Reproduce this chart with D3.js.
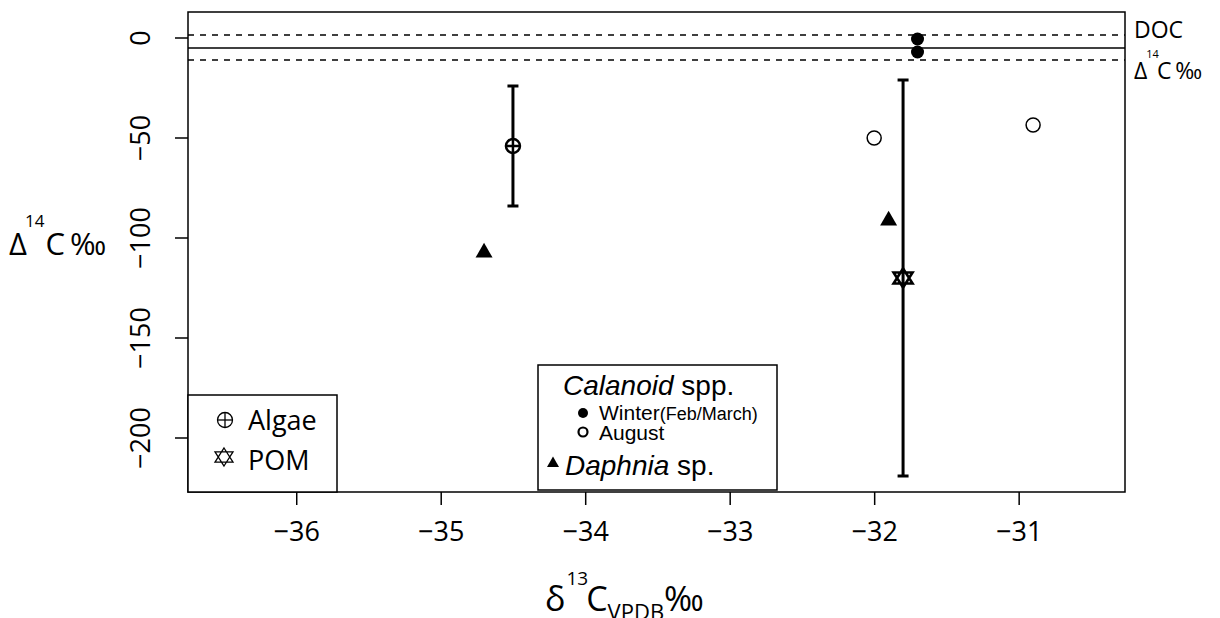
<!DOCTYPE html>
<html><head><meta charset="utf-8">
<script src="https://cdn.jsdelivr.net/npm/d3@7"></script>
<style>body{margin:0;background:#fff}svg{display:block}</style>
</head><body>
<svg id="c" width="1220" height="618"></svg>
<script>
// ---- data ----
const xTicks = [-36, -35, -34, -33, -32, -31];
const yTicks = [0, -50, -100, -150, -200];
const calWinterX = [-31.7, -31.7];
const calWinterY = [-0.5, -7];
const calAugX = [-32.0, -30.9];
const calAugY = [-50, -43.5];
const daphX = [-34.7, -31.9];
const daphY = [-107, -91];
const algaeX = [-34.5];
const algaeY = [-54];
const algaeErr = [30];
const pomX = [-31.8];
const pomY = [-120];
const pomErr = [99];
const docMean = [-5];
const docRange = [1.5, -11];

const svg = d3.select("#c");
const L = 188, R = 1125, T = 12, B = 492;
const x = d3.scaleLinear().domain([-36.749, -30.264]).range([L, R]);
const y = d3.scaleLinear().domain([-227, 13]).range([B, T]);
const font = "'Open Sans', 'Noto Sans', sans-serif";
const afont = "'Liberation Sans', Arial, sans-serif";
const fmt = d => String(d).replace("-", "\u2212");

// axes
const xa = svg.append("g").attr("transform", `translate(0,${B})`)
  .call(d3.axisBottom(x).tickValues(xTicks).tickSize(13).tickPadding(17).tickFormat(fmt));
xa.select(".domain").remove();
xa.selectAll("line").attr("stroke", "#000").attr("stroke-width", 1.5);
xa.selectAll("text").attr("font-family", font).attr("font-size", 27).attr("fill", "#000");

const ya = svg.append("g").attr("transform", `translate(${L},0)`)
  .call(d3.axisLeft(y).tickValues(yTicks).tickSize(13).tickFormat(fmt));
ya.select(".domain").remove();
ya.selectAll(".tick").attr("transform", "translate(0,0)");
ya.selectAll(".tick line").attr("stroke", "#000").attr("stroke-width", 1.5)
  .attr("y1", d => y(d)).attr("y2", d => y(d));
ya.selectAll("text").attr("font-family", font).attr("font-size", 27).attr("fill", "#000")
  .attr("transform", "rotate(-90)").attr("text-anchor", "middle")
  .attr("x", d => -y(d)).attr("y", -47).attr("dy", "0.35em");

// frame
svg.append("rect").attr("x", L).attr("y", T).attr("width", R - L).attr("height", B - T)
  .attr("fill", "none").attr("stroke", "#000").attr("stroke-width", 1.5);

// DOC lines
svg.selectAll(".docm").data(docMean).enter().append("line")
  .attr("x1", L).attr("x2", R).attr("y1", d => y(d)).attr("y2", d => y(d))
  .attr("stroke", "#000").attr("stroke-width", 1.3);
svg.selectAll(".docr").data(docRange).enter().append("line")
  .attr("x1", L).attr("x2", R).attr("y1", d => y(d)).attr("y2", d => y(d))
  .attr("stroke", "#000").attr("stroke-width", 1.3).attr("stroke-dasharray", "6,6");

// error bars
function errbar(xs, ys, es) {
  xs.forEach((xv, i) => {
    const cx = x(xv), y1 = y(ys[i] + es[i]), y2 = y(ys[i] - es[i]);
    svg.append("line").attr("x1", cx).attr("x2", cx).attr("y1", y1).attr("y2", y2).attr("stroke", "#000").attr("stroke-width", 3);
    [y1, y2].forEach(yy => svg.append("line").attr("x1", cx - 5.5).attr("x2", cx + 5.5).attr("y1", yy).attr("y2", yy).attr("stroke", "#000").attr("stroke-width", 3));
  });
}
errbar(algaeX, algaeY, algaeErr);
errbar(pomX, pomY, pomErr);

// markers
function triPath(cx, cy, s) {
  const h = s * 0.87;
  return `M${cx},${cy - h * 0.62}L${cx + s / 2},${cy + h * 0.38}L${cx - s / 2},${cy + h * 0.38}Z`;
}
function starPath(cx, cy, s) {
  const h = s * 0.58;
  return `M${cx},${cy - s * 0.5}L${cx + s / 2},${cy + h * 0.5}L${cx - s / 2},${cy + h * 0.5}Z` +
         `M${cx},${cy + s * 0.5}L${cx + s / 2},${cy - h * 0.5}L${cx - s / 2},${cy - h * 0.5}Z`;
}
function oplus(g, cx, cy, r, sw) {
  g.append("circle").attr("cx", cx).attr("cy", cy).attr("r", r).attr("fill", "#fff").attr("stroke", "#000").attr("stroke-width", sw);
  g.append("line").attr("x1", cx - r).attr("x2", cx + r).attr("y1", cy).attr("y2", cy).attr("stroke", "#000").attr("stroke-width", sw);
  g.append("line").attr("x1", cx).attr("x2", cx).attr("y1", cy - r).attr("y2", cy + r).attr("stroke", "#000").attr("stroke-width", sw);
}
algaeX.forEach((xv, i) => oplus(svg, x(xv), y(algaeY[i]), 7, 2.5));
pomX.forEach((xv, i) => svg.append("path").attr("d", starPath(x(xv), y(pomY[i]), 19))
  .attr("fill", "none").attr("stroke", "#000").attr("stroke-width", 2.6).attr("stroke-linejoin", "miter"));

svg.selectAll(".cw").data(calWinterX).enter().append("circle")
  .attr("cx", d => x(d)).attr("cy", (d, i) => y(calWinterY[i])).attr("r", 6.5).attr("fill", "#000");
svg.selectAll(".ca").data(calAugX).enter().append("circle")
  .attr("cx", d => x(d)).attr("cy", (d, i) => y(calAugY[i])).attr("r", 7).attr("fill", "none").attr("stroke", "#000").attr("stroke-width", 1.5);
svg.selectAll(".dp").data(daphX).enter().append("path")
  .attr("d", (d, i) => triPath(x(d), y(daphY[i]), 17)).attr("fill", "#000");

// legend 1
svg.append("rect").attr("x", L).attr("y", 395).attr("width", 337 - L).attr("height", B - 395)
  .attr("fill", "#fff").attr("stroke", "#000").attr("stroke-width", 1.5);
oplus(svg, 225, 420, 7.5, 1.3);
svg.append("path").attr("d", starPath(224, 457, 18)).attr("fill", "none").attr("stroke", "#000").attr("stroke-width", 1.3);
svg.append("text").attr("x", 248).attr("y", 430).attr("font-family", font).attr("font-size", 27).text("Algae");
svg.append("text").attr("x", 248).attr("y", 470).attr("font-family", font).attr("font-size", 27).text("POM");

// legend 2
svg.append("rect").attr("x", 538).attr("y", 365).attr("width", 239).attr("height", 125)
  .attr("fill", "#fff").attr("stroke", "#000").attr("stroke-width", 1.5);
const t1 = svg.append("text").attr("x", 563).attr("y", 395).attr("font-family", afont).attr("font-size", 28);
t1.append("tspan").attr("font-style", "italic").text("Calanoid");
t1.append("tspan").text(" spp.");
svg.append("circle").attr("cx", 583).attr("cy", 413).attr("r", 5).attr("fill", "#000");
const t2 = svg.append("text").attr("x", 599).attr("y", 420).attr("font-family", afont).attr("font-size", 21);
t2.append("tspan").text("Winter");
t2.append("tspan").attr("font-size", 18).text("(Feb/March)");
svg.append("circle").attr("cx", 583).attr("cy", 432).attr("r", 4.5).attr("fill", "none").attr("stroke", "#000").attr("stroke-width", 2.2);
svg.append("text").attr("x", 599).attr("y", 440).attr("font-family", afont).attr("font-size", 21).text("August");
svg.append("path").attr("d", triPath(553, 463, 12)).attr("fill", "#000");
const t3 = svg.append("text").attr("x", 565).attr("y", 475).attr("font-family", afont).attr("font-size", 28);
t3.append("tspan").attr("font-style", "italic").text("Daphnia");
t3.append("tspan").text(" sp.");

// right labels
svg.append("text").attr("x", 1134).attr("y", 38).attr("font-family", font).attr("font-size", 23).text("DOC");
const r2 = svg.append("text").attr("x", 1134).attr("y", 79).attr("font-family", font).attr("font-size", 23);
r2.append("tspan").text("\u0394");
r2.append("tspan").attr("font-size", 11).attr("dy", -21).attr("dx", -1).text("14");
r2.append("tspan").attr("dy", 21).attr("dx", -2).text("C\u2009\u2030");

// y axis title
const yt = svg.append("text").attr("x", 9).attr("y", 255).attr("font-family", font).attr("font-size", 31);
yt.append("tspan").text("\u0394");
yt.append("tspan").attr("font-size", 17).attr("dy", -28).attr("dx", -2).text("14");
yt.append("tspan").attr("dy", 28).attr("dx", 1).text("C\u2009\u2030");

// x axis title
const xt = svg.append("text").attr("x", 545).attr("y", 611).attr("font-family", font).attr("font-size", 34);
xt.append("tspan").text("\u03b4");
xt.append("tspan").attr("font-size", 19).attr("dy", -26).attr("dx", 1).text("13");
xt.append("tspan").attr("dy", 26).attr("dx", -2).text("C");
xt.append("tspan").attr("font-size", 22).attr("dy", 9).text("VPDB");
xt.append("tspan").attr("dy", -9).text("\u2030");
</script>
</body></html>
